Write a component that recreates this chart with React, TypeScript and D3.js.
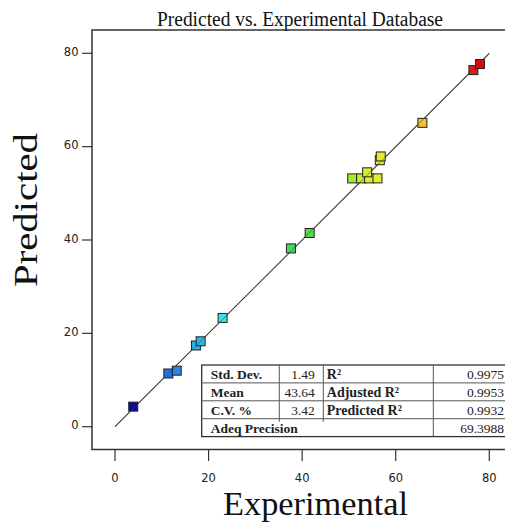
import React from "react";
import * as d3 from "d3";

const experimental = [3.9, 11.4, 13.2, 17.3, 18.3, 23.0, 37.6, 41.6, 50.7, 52.6, 54.3, 56.1, 53.9, 56.6, 56.8, 65.7, 76.6, 78.0];
const predicted = [4.3, 11.4, 12.0, 17.4, 18.3, 23.3, 38.2, 41.5, 53.2, 53.2, 53.2, 53.2, 54.5, 57.1, 57.9, 65.1, 76.4, 77.7];
const xTicks = [0, 20, 40, 60, 80];
const yTicks = [0, 20, 40, 60, 80];
const colorStops = [3.9, 12, 18, 23, 40, 51, 55, 65.7, 77];
const colorRange = ["#0a0a9c", "#2a78e8", "#30b4e4", "#40e0e8", "#48d848", "#a4ee30", "#e4f030", "#f0c030", "#e41414"];
const statLabelsLeft = ["Std. Dev.", "Mean", "C.V. %"];
const statValuesLeft = ["1.49", "43.64", "3.42"];
const statLabelsRight = ["R²", "Adjusted R²", "Predicted R²"];
const statValuesRight = ["0.9975", "0.9953", "0.9932"];
const adeqLabel = "Adeq Precision";
const adeqValue = "69.3988";

export default function App() {
  const W = 505, H = 525;
  const x = d3.scaleLinear().domain([0, 80]).range([115, 489.3]);
  const y = d3.scaleLinear().domain([0, 80]).range([426.7, 53.3]);
  const color = d3.scaleLinear<string>().domain(colorStops).range(colorRange);
  const frame = { left: 92, top: 30, bottom: 449.5 };
  const sq = 9;
  const serif = "'Liberation Serif', 'Times New Roman', serif";
  const sans = "'DejaVu Sans', Verdana, sans-serif";

  // table geometry
  const tL = 201.7, tT = 365, rowH = 17.9, c1 = 279.3, c2 = 323.3, c3 = 433.3, tR = 520;
  const rows = [0, 1, 2, 3].map((i) => tT + i * rowH);
  const tB = tT + 4 * rowH;

  return (
    <svg width={W} height={H} style={{ position: "absolute", left: 0, top: 0, background: "#fff" }}>
      <rect x={0} y={0} width={W} height={H} fill="#fff" />
      <text x={300} y={26} textAnchor="middle" fontFamily={serif} fontSize={20} textLength={286} lengthAdjust="spacingAndGlyphs" fill="#111">
        Predicted vs.  Experimental Database
      </text>
      {/* frame */}
      <rect x={frame.left} y={frame.top} width={W + 20 - frame.left} height={frame.bottom - frame.top} fill="none" stroke="#333" strokeWidth={1.5} />
      {/* y ticks */}
      {yTicks.map((t) => (
        <g key={"y" + t}>
          <line x1={82} x2={frame.left} y1={y(t)} y2={y(t)} stroke="#333" strokeWidth={1.2} />
          <text x={78.5} y={y(t) + 2.5} textAnchor="end" fontFamily={sans} fontSize={11.5} fill="#222">{t}</text>
        </g>
      ))}
      {/* x ticks */}
      {xTicks.map((t) => (
        <g key={"x" + t}>
          <line x1={x(t)} x2={x(t)} y1={frame.bottom} y2={461} stroke="#333" strokeWidth={1.2} />
          <text x={x(t)} y={481.5} textAnchor="middle" fontFamily={sans} fontSize={11.5} fill="#222">{t}</text>
        </g>
      ))}
      {/* axis titles */}
      <text x={315.5} y={515} textAnchor="middle" fontFamily={serif} fontSize={33} textLength={185} lengthAdjust="spacingAndGlyphs" fill="#111">Experimental</text>
      <text transform={`translate(36.5,210) rotate(-90)`} textAnchor="middle" fontFamily={serif} fontSize={34} textLength={154} lengthAdjust="spacingAndGlyphs" fill="#111">Predicted</text>
      {/* diagonal */}
      <line x1={x(0)} y1={y(0)} x2={x(80)} y2={y(80)} stroke="#444" strokeWidth={1.1} />
      {/* points */}
      {experimental.map((e, i) => (
        <rect key={"p" + i} x={x(e) - sq / 2} y={y(predicted[i]) - sq / 2} width={sq} height={sq} fill={color(e)} stroke="#222" strokeWidth={1} />
      ))}
      {/* diagonal on top of points (faint) */}
      <line x1={x(0)} y1={y(0)} x2={x(80)} y2={y(80)} stroke="#444" strokeWidth={0.8} opacity={0.7} />
      {/* stats table */}
      <g>
        <rect x={tL} y={tT} width={tR - tL} height={tB - tT} fill="#fff" stroke="#333" strokeWidth={1.3} />
        {rows.slice(1).map((ry, i) => (
          <line key={"r" + i} x1={tL} x2={tR} y1={ry} y2={ry} stroke="#555" strokeWidth={1} />
        ))}
        <line x1={c1} x2={c1} y1={tT} y2={rows[3] + 3} stroke="#555" strokeWidth={1} />
        <line x1={c2} x2={c2} y1={tT} y2={rows[3] + 3} stroke="#555" strokeWidth={1} />
        <line x1={c3} x2={c3} y1={tT} y2={tB} stroke="#555" strokeWidth={1} />
        {statLabelsLeft.map((s, i) => (
          <text key={"ll" + i} x={tL + 9} y={rows[i] + 14} fontFamily={serif} fontWeight="bold" fontSize={13.5} fill="#222">{s}</text>
        ))}
        {statValuesLeft.map((s, i) => (
          <text key={"lv" + i} x={c2 - 8.5} y={rows[i] + 14} textAnchor="end" fontFamily={serif} fontSize={13.5} fill="#222">{s}</text>
        ))}
        {statLabelsRight.map((s, i) => (
          <text key={"rl" + i} x={c2 + 3.5} y={rows[i] + 14} fontFamily={serif} fontWeight="bold" fontSize={14} fill="#222">{s}</text>
        ))}
        {statValuesRight.map((s, i) => (
          <text key={"rv" + i} x={504} y={rows[i] + 14} textAnchor="end" fontFamily={serif} fontSize={13.5} fill="#222">{s}</text>
        ))}
        <text x={tL + 9} y={rows[3] + 14} fontFamily={serif} fontWeight="bold" fontSize={13.5} fill="#222">{adeqLabel}</text>
        <text x={504} y={rows[3] + 14} textAnchor="end" fontFamily={serif} fontSize={13.5} fill="#222">{adeqValue}</text>
      </g>
    </svg>
  );
}
